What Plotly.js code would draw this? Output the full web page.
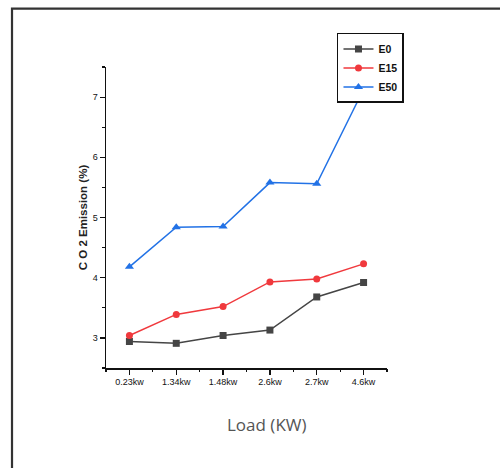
<!DOCTYPE html>
<html>
<head>
<meta charset="utf-8">
<script src="https://cdn.plot.ly/plotly-3.0.1.min.js"></script>
<style>html,body{margin:0;padding:0;background:#fff;}#chart{width:500px;height:468px;}</style>
</head>
<body>
<div id="chart"></div>
<script>
const loads = ["0.23kw", "1.34kw", "1.48kw", "2.6kw", "2.7kw", "4.6kw"];
const e0  = [2.94, 2.91, 3.04, 3.13, 3.68, 3.92];
const e15 = [3.04, 3.39, 3.52, 3.93, 3.98, 4.23];
const e50 = [4.18, 4.84, 4.85, 5.58, 5.56, 7.13];
const seriesNames = ["E0", "E15", "E50"];

const tickFont = {family: "Liberation Sans Narrow, Liberation Sans, Arial, sans-serif", size: 9, color: "#111"};

const traces = [
  {x: loads, y: e0, name: seriesNames[0], type: "scatter", mode: "lines+markers",
   line: {color: "#454545", width: 1.5}, marker: {symbol: "square", size: 7, color: "#454545"}},
  {x: loads, y: e15, name: seriesNames[1], type: "scatter", mode: "lines+markers",
   line: {color: "#f0393d", width: 1.5}, marker: {symbol: "circle", size: 7, color: "#f0393d"}},
  {x: loads, y: e50, name: seriesNames[2], type: "scatter", mode: "lines+markers",
   line: {color: "#2272e6", width: 1.5}, marker: {symbol: "triangle-up", size: 8, color: "#2272e6"}}
];

const halfTicks = [];
for (let i = 0; i <= loads.length; i++) halfTicks.push(i - 0.5);

const layout = {
  width: 500, height: 468,
  margin: {l: 106, r: 113, t: 67, b: 100},
  paper_bgcolor: "#fff", plot_bgcolor: "#fff",
  showlegend: true,
  legend: {x: 0.822, y: 1.113, xanchor: "left", yanchor: "top",
           bgcolor: "#fff", bordercolor: "#111", borderwidth: 1.5,
           font: {family: "Liberation Sans Narrow, Liberation Sans, Arial, sans-serif", size: 10.5, color: "#111", weight: "bold"},
           tracegroupgap: 0, itemwidth: 30},
  xaxis: {type: "category", range: [-0.5, loads.length - 0.5],
          showline: true, linecolor: "#111", linewidth: 1.5, mirror: false,
          showgrid: false, zeroline: false,
          ticks: "outside", ticklen: 5, tickwidth: 1.2, tickcolor: "#111",
          tickfont: tickFont, fixedrange: true},
  xaxis2: {type: "linear", overlaying: "x", anchor: "y", side: "bottom",
           range: [-0.5, loads.length - 0.5], tickvals: halfTicks, showticklabels: false,
           ticks: "outside", ticklen: 3, tickwidth: 1.2, tickcolor: "#111",
           showgrid: false, zeroline: false, showline: false},
  yaxis: {range: [2.5, 7.5], dtick: 1, tick0: 0,
          showline: true, linecolor: "#111", linewidth: 1.5,
          showgrid: false, zeroline: false,
          ticks: "outside", ticklen: 5, tickwidth: 1.2, tickcolor: "#111",
          minor: {dtick: 0.5, ticks: "outside", ticklen: 3, tickwidth: 1.2, tickcolor: "#111", showgrid: false},
          tickfont: tickFont,
          title: {text: "C O 2 Emission (%)", standoff: 2,
                  font: {family: "Liberation Sans, Arial, sans-serif", size: 11.5, color: "#222", weight: "bold"}}},
  annotations: [
    {text: "Load (KW)", xref: "paper", yref: "paper", x: 0.572, y: -0.189,
     xanchor: "center", yanchor: "middle", showarrow: false,
     font: {family: "Open Sans, sans-serif", size: 17, color: "#555"}}
  ],
  shapes: [
    {type: "rect", xref: "paper", yref: "paper", x0: -0.3345, x1: 2, y0: -1, y1: 1.194,
     line: {color: "#333", width: 2.2}, fillcolor: "rgba(0,0,0,0)", layer: "below"}
  ]
};

traces.push({x: [0], y: [null], xaxis: "x2", yaxis: "y", showlegend: false, hoverinfo: "skip", mode: "markers"});

Plotly.newPlot("chart", traces, layout, {displayModeBar: false, staticPlot: true});
</script>
</body>
</html>
